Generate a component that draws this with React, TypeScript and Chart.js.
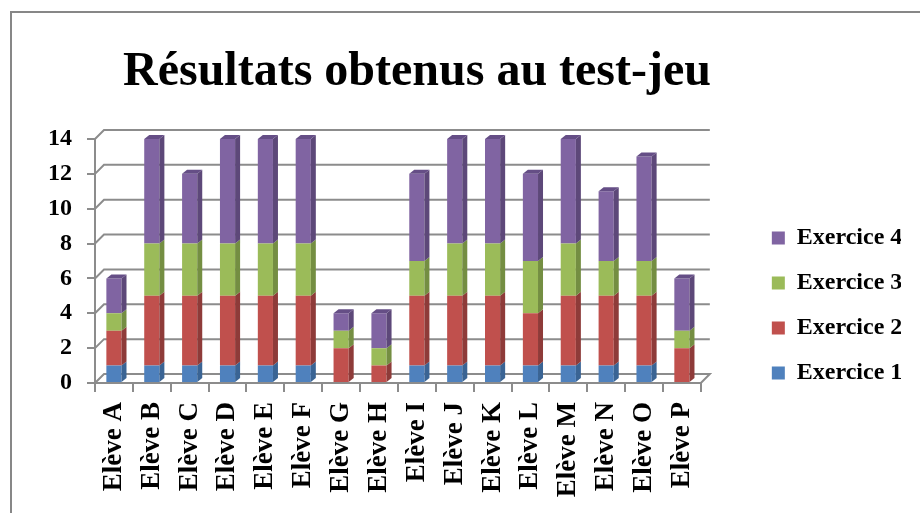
import React, { useEffect, useRef } from 'react';
import { Chart, registerables } from 'chart.js';

Chart.register(...registerables);

const titleText = 'Résultats obtenus au test-jeu';
const categories = ['Elève A', 'Elève B', 'Elève C', 'Elève D', 'Elève E', 'Elève F', 'Elève G', 'Elève H', 'Elève I', 'Elève J', 'Elève K', 'Elève L', 'Elève M', 'Elève N', 'Elève O', 'Elève P'];
const seriesLabels = ['Exercice 1', 'Exercice 2', 'Exercice 3', 'Exercice 4'];
const exercice1 = [1, 1, 1, 1, 1, 1, 0, 0, 1, 1, 1, 1, 1, 1, 1, 0];
const exercice2 = [2, 4, 4, 4, 4, 4, 2, 1, 4, 4, 4, 3, 4, 4, 4, 2];
const exercice3 = [1, 3, 3, 3, 3, 3, 1, 1, 2, 3, 3, 3, 3, 2, 2, 1];
const exercice4 = [2, 6, 4, 6, 6, 6, 1, 2, 5, 6, 6, 5, 6, 4, 6, 3];
const yMin = 0;
const yMax = 14;
const yStep = 2;

const frontColors = ['#4f81bd', '#c0504d', '#9bbb59', '#8064a2'];
const sideColors = ['#3a6494', '#8e3b39', '#748e42', '#5d4879'];
const topColors = ['#5a86bd', '#b04a47', '#8aa84f', '#654e86'];
const GRID = '#8c8c8c';
const FONT = '"Liberation Serif", "Times New Roman", serif';

Chart.defaults.font.family = FONT;

const borderPlugin = {
  id: 'outerBorder',
  beforeDraw(chart: any) {
    const c = chart.ctx;
    c.save();
    c.strokeStyle = '#878787';
    c.lineWidth = 2;
    c.strokeRect(11, 12, 960, 600);
    c.restore();
  },
};

const GDX = 9;
const GDY = 9;

const grid3dPlugin = {
  id: 'grid3d',
  beforeDatasetsDraw(chart: any) {
    const c = chart.ctx;
    const y = chart.scales.y;
    const { left, right, bottom } = chart.chartArea;
    c.save();
    c.strokeStyle = GRID;
    c.lineWidth = 2;
    for (let v = yMin; v <= yMax; v += yStep) {
      const py = y.getPixelForValue(v);
      c.beginPath();
      c.moveTo(left, py);
      c.lineTo(left + GDX, py - GDY);
      c.lineTo(right + GDX, py - GDY);
      if (v === yMin) {
        c.lineTo(right, bottom);
      }
      c.stroke();
    }
    c.restore();
  },
};

const BDX = 5;
const BDY = 4;

const bars3dPlugin = {
  id: 'bars3d',
  afterDatasetsDraw(chart: any) {
    const c = chart.ctx;
    const n = chart.data.datasets.length;
    c.save();
    for (let i = 0; i < n; i++) {
      const meta = chart.getDatasetMeta(i);
      const data = chart.data.datasets[i].data as number[];
      meta.data.forEach((el: any, j: number) => {
        if (!data[j]) return;
        const { x, y, base, width } = el.getProps(['x', 'y', 'base', 'width'], true);
        const r = x + width / 2;
        const l = x - width / 2;
        c.fillStyle = sideColors[i];
        c.beginPath();
        c.moveTo(r, y);
        c.lineTo(r + BDX, y - BDY);
        c.lineTo(r + BDX, base - BDY);
        c.lineTo(r, base);
        c.closePath();
        c.fill();
        let isTop = true;
        for (let k = i + 1; k < n; k++) {
          if ((chart.data.datasets[k].data as number[])[j]) isTop = false;
        }
        if (isTop) {
          c.fillStyle = topColors[i];
          c.beginPath();
          c.moveTo(l, y);
          c.lineTo(l + BDX, y - BDY);
          c.lineTo(r + BDX, y - BDY);
          c.lineTo(r, y);
          c.closePath();
          c.fill();
        }
      });
    }
    c.restore();
  },
};

const titlePlugin = {
  id: 'customTitle',
  afterDraw(chart: any) {
    const c = chart.ctx;
    c.save();
    c.font = `bold 48px ${FONT}`;
    c.fillStyle = '#000';
    c.textAlign = 'center';
    c.textBaseline = 'alphabetic';
    c.fillText(titleText, 417, 85);
    c.restore();
  },
};

export default function App() {
  const ref = useRef<HTMLCanvasElement>(null);
  useEffect(() => {
    const canvas = ref.current;
    if (!canvas) return;
    const series = [exercice1, exercice2, exercice3, exercice4];
    const chart = new Chart(canvas, {
      type: 'bar',
      data: {
        labels: categories,
        datasets: series.map((d, i) => ({
          label: seriesLabels[i],
          data: d,
          backgroundColor: frontColors[i],
          borderWidth: 0,
          categoryPercentage: 1,
          barPercentage: 0.4,
        })),
      },
      options: {
        animation: false,
        responsive: true,
        maintainAspectRatio: false,
        layout: { padding: { top: 139, left: 0, right: 19, bottom: 0 } },
        scales: {
          x: {
            stacked: true,
            offset: true,
            grid: { display: true, drawOnChartArea: false, drawTicks: true, tickLength: 9, color: GRID, lineWidth: 2, offset: true },
            border: { display: true, color: GRID, width: 2 },
            ticks: { color: '#000', font: { size: 27, weight: 'bold' }, minRotation: 90, maxRotation: 90, padding: 10, autoSkip: false },
            afterFit: (s: any) => { s.height = 130; },
          },
          y: {
            stacked: true,
            min: yMin,
            max: yMax,
            ticks: { stepSize: yStep, color: '#000', font: { size: 24, weight: 'bold' }, padding: 15 },
            grid: { drawOnChartArea: false, tickLength: 8, color: GRID, lineWidth: 2 },
            border: { color: GRID, width: 2 },
            afterFit: (s: any) => { s.width = 95; },
          },
          yR: {
            type: 'linear',
            position: 'right',
            display: true,
            grid: { display: false },
            border: { display: false },
            ticks: { display: false },
            afterFit: (s: any) => { s.width = 50; },
          },
        },
        plugins: {
          title: { display: false },
          tooltip: { enabled: false },
          legend: {
            position: 'right',
            align: 'start',
            fullSize: true,
            reverse: true,
            title: { display: true, text: ' ', font: { size: 10 }, padding: { top: 54, bottom: 0 } },
            labels: { color: '#000', boxWidth: 13, boxHeight: 13, padding: 21, font: { size: 24, weight: 'bold' } },
          },
        },
      } as any,
      plugins: [borderPlugin, grid3dPlugin, bars3dPlugin, titlePlugin],
    });
    return () => chart.destroy();
  }, []);
  return (
    <div style={{ position: 'absolute', left: 0, top: 0, width: 920, height: 513, background: '#fff' }}>
      <canvas ref={ref} />
    </div>
  );
}
